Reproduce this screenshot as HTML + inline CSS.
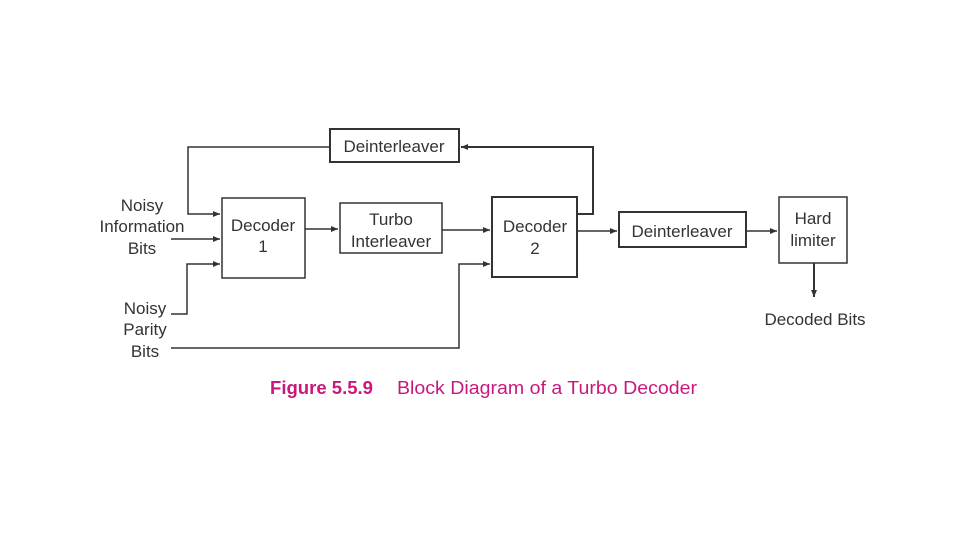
<!DOCTYPE html>
<html><head><style>
body{margin:0;background:#fff;}
svg{display:block}
text{font-family:"Liberation Sans",Arial,sans-serif;fill:#333;font-size:17px}
</style></head><body>
<svg width="960" height="540" viewBox="0 0 960 540">
<defs><marker id="a" markerWidth="8" markerHeight="8" refX="7" refY="4" orient="auto" markerUnits="userSpaceOnUse"><path d="M0,1 L7,4 L0,7 z" fill="#333"/></marker></defs>
<g fill="none" stroke="#333" stroke-width="1.5">
<rect x="330" y="129" width="129" height="33" stroke-width="2"/>
<rect x="222" y="198" width="83" height="80"/>
<rect x="340" y="203" width="102" height="50"/>
<rect x="492" y="197" width="85" height="80" stroke-width="2"/>
<rect x="619" y="212" width="127" height="35" stroke-width="2"/>
<rect x="779" y="197" width="68" height="66"/>
<polyline points="577,214 593,214 593,147 461,147" marker-end="url(#a)" stroke-width="2"/>
<polyline points="330,147 188,147 188,214 220,214" marker-end="url(#a)"/>
<line x1="171" y1="239" x2="220" y2="239" marker-end="url(#a)"/>
<polyline points="171,314 187,314 187,264 220,264" marker-end="url(#a)"/>
<polyline points="171,348 459,348 459,264 490,264" marker-end="url(#a)"/>
<line x1="305" y1="229" x2="338" y2="229" marker-end="url(#a)"/>
<line x1="442" y1="230" x2="490" y2="230" marker-end="url(#a)"/>
<line x1="577" y1="231" x2="617" y2="231" marker-end="url(#a)"/>
<line x1="746" y1="231" x2="777" y2="231" marker-end="url(#a)"/>
<line x1="814" y1="263" x2="814" y2="297" marker-end="url(#a)" stroke-width="2"/>
</g>
<g text-anchor="middle">
<text x="394" y="152">Deinterleaver</text>
<text x="263" y="231">Decoder</text><text x="263" y="252">1</text>
<text x="391" y="225">Turbo</text><text x="391" y="247">Interleaver</text>
<text x="535" y="232">Decoder</text><text x="535" y="254">2</text>
<text x="682" y="237">Deinterleaver</text>
<text x="813" y="224">Hard</text><text x="813" y="246">limiter</text>
<text x="815" y="325">Decoded Bits</text>
<text x="142" y="211">Noisy</text><text x="142" y="232">Information</text><text x="142" y="254">Bits</text>
<text x="145" y="314">Noisy</text><text x="145" y="335">Parity</text><text x="145" y="357">Bits</text>
</g>
<text x="270" y="394" textLength="103" lengthAdjust="spacingAndGlyphs" style="fill:#c8187e;font-weight:bold;font-size:18px">Figure 5.5.9</text>
<text x="397" y="394" textLength="300" lengthAdjust="spacingAndGlyphs" style="fill:#c8187e;font-size:18px">Block Diagram of a Turbo Decoder</text>
</svg>
</body></html>
